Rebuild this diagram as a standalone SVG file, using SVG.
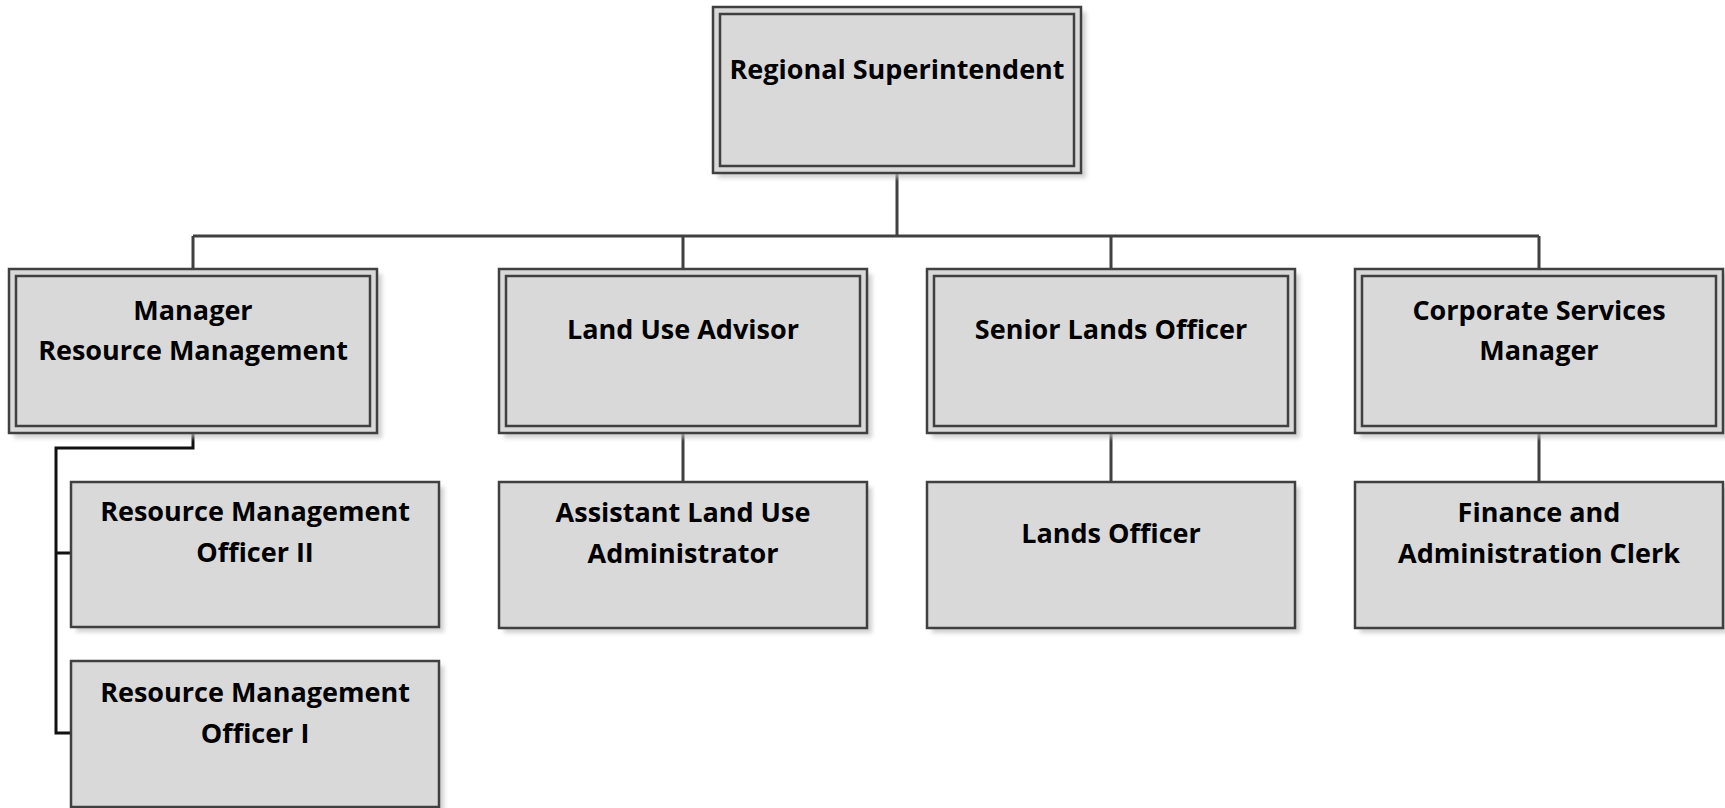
<svg xmlns="http://www.w3.org/2000/svg" width="1725" height="808" viewBox="0 0 1725 808">
<style>
.box{fill:#d9d9d9;stroke:#404040;stroke-width:2.5}
.inner{fill:none;stroke:#404040;stroke-width:2.5}
.sh{fill:#bdbdbd;opacity:0.7;filter:url(#blur)}
.t{font-family:"Open Sans",Lato,sans-serif;font-weight:bold;font-size:27px;fill:#000;text-anchor:middle}
.c{fill:none;stroke:#404040;stroke-width:3}
.ck{fill:none;stroke:#111;stroke-width:3}
</style>
<defs>
<filter id="blur" x="-5%" y="-5%" width="110%" height="110%"><feGaussianBlur stdDeviation="2"/></filter>
</defs>
<rect width="1725" height="808" fill="#fff"/>
<g id="connectors">
<path class="c" d="M897 173V236M193 236H1539M193 236V269M683 236V269M1111 236V269M1539 236V269"/>
<path class="c" d="M683 433V482M1111 433V482M1539 433V482"/>
<path class="ck" d="M193 433V448H56V733H71M56 553H71"/>
</g>
<g id="regional-superintendent">
<rect class="sh" x="718" y="12" width="368" height="166"/>
<rect class="box" x="713" y="7" width="368" height="166"/>
<rect class="inner" x="720" y="14" width="354" height="152"/>
<text class="t" x="897" y="79">Regional Superintendent</text>
</g>
<g id="manager-resource-management">
<rect class="sh" x="14" y="274" width="368" height="164"/>
<rect class="box" x="9" y="269" width="368" height="164"/>
<rect class="inner" x="16" y="276" width="354" height="150"/>
<text class="t" x="193" y="320">Manager</text>
<text class="t" x="193" y="360">Resource Management</text>
</g>
<g id="land-use-advisor">
<rect class="sh" x="504" y="274" width="368" height="164"/>
<rect class="box" x="499" y="269" width="368" height="164"/>
<rect class="inner" x="506" y="276" width="354" height="150"/>
<text class="t" x="683" y="339">Land Use Advisor</text>
</g>
<g id="senior-lands-officer">
<rect class="sh" x="932" y="274" width="368" height="164"/>
<rect class="box" x="927" y="269" width="368" height="164"/>
<rect class="inner" x="934" y="276" width="354" height="150"/>
<text class="t" x="1111" y="339">Senior Lands Officer</text>
</g>
<g id="corporate-services-manager">
<rect class="sh" x="1360" y="274" width="368" height="164"/>
<rect class="box" x="1355" y="269" width="368" height="164"/>
<rect class="inner" x="1362" y="276" width="354" height="150"/>
<text class="t" x="1539" y="320">Corporate Services</text>
<text class="t" x="1539" y="360">Manager</text>
</g>
<g id="rmo-ii">
<rect class="sh" x="76" y="487" width="368" height="145"/>
<rect class="box" x="71" y="482" width="368" height="145"/>
<text class="t" x="255" y="521">Resource Management</text>
<text class="t" x="255" y="562">Officer II</text>
</g>
<g id="rmo-i">
<rect class="sh" x="76" y="666" width="368" height="146"/>
<rect class="box" x="71" y="661" width="368" height="146"/>
<text class="t" x="255" y="702">Resource Management</text>
<text class="t" x="255" y="743">Officer I</text>
</g>
<g id="assistant-land-use-administrator">
<rect class="sh" x="504" y="487" width="368" height="146"/>
<rect class="box" x="499" y="482" width="368" height="146"/>
<text class="t" x="683" y="522">Assistant Land Use</text>
<text class="t" x="683" y="563">Administrator</text>
</g>
<g id="lands-officer">
<rect class="sh" x="932" y="487" width="368" height="146"/>
<rect class="box" x="927" y="482" width="368" height="146"/>
<text class="t" x="1111" y="543">Lands Officer</text>
</g>
<g id="finance-administration-clerk">
<rect class="sh" x="1360" y="487" width="368" height="146"/>
<rect class="box" x="1355" y="482" width="368" height="146"/>
<text class="t" x="1539" y="522">Finance and</text>
<text class="t" x="1539" y="563">Administration Clerk</text>
</g>
</svg>
